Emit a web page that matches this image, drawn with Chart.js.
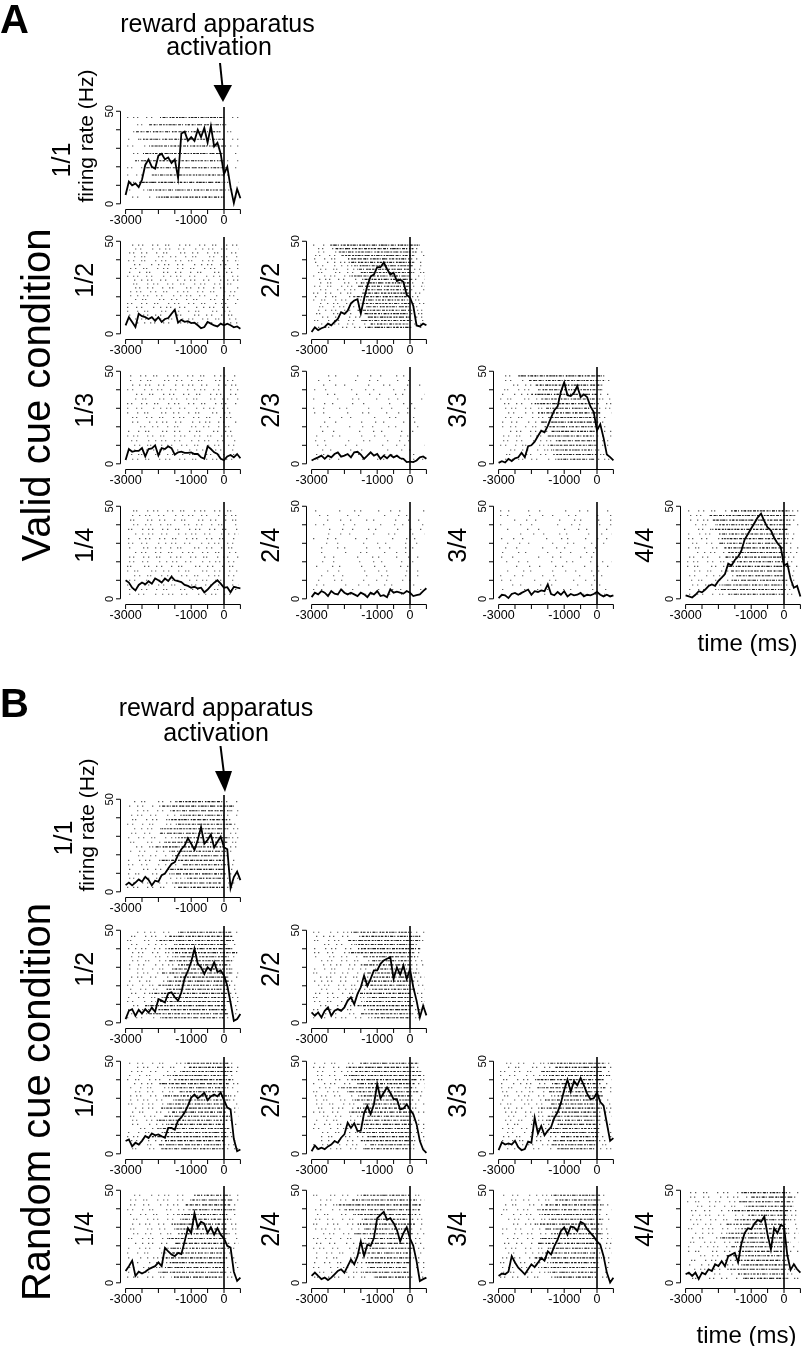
<!DOCTYPE html>
<html>
<head>
<meta charset="utf-8">
<script src="https://cdn.jsdelivr.net/npm/chart.js@4.4.1/dist/chart.umd.min.js"></script>
<style>
  html, body { margin: 0; padding: 0; background: #fff; }
  #fig { position: relative; width: 806px; height: 1346px; overflow: hidden; }
  #fig canvas { position: absolute; }
  #fig svg { position: absolute; left: 0; top: 0; }
</style>
</head>
<body>
<div id="fig">
<svg id="labels" width="806" height="1346" font-family="Liberation Sans, Arial, sans-serif" fill="#000">
  <text x="0" y="33" font-size="40" font-weight="bold">A</text>
  <text x="217.5" y="32" font-size="25" text-anchor="middle">reward apparatus</text>
  <text x="219" y="55" font-size="25" text-anchor="middle">activation</text>
  <line x1="220" y1="63" x2="222.8" y2="90" stroke="#000" stroke-width="2"/>
  <polygon points="213.5,85 232,85 223,102" fill="#000"/>
  <text transform="translate(93,136) rotate(-90)" font-size="21" text-anchor="middle">firing rate (Hz)</text>
  <text transform="translate(50,395) rotate(-90)" font-size="40" text-anchor="middle">Valid cue condition</text>
  <text x="747.5" y="651" font-size="24" text-anchor="middle">time (ms)</text>

  <text x="0" y="717" font-size="40" font-weight="bold">B</text>
  <text x="216" y="716" font-size="25" text-anchor="middle">reward apparatus</text>
  <text x="216" y="741" font-size="25" text-anchor="middle">activation</text>
  <line x1="220.5" y1="746" x2="224.5" y2="778" stroke="#000" stroke-width="2"/>
  <polygon points="215,771 232,771 225,792" fill="#000"/>
  <text transform="translate(94,825) rotate(-90)" font-size="21" text-anchor="middle">firing rate (Hz)</text>
  <text transform="translate(50,1102) rotate(-90)" font-size="40" text-anchor="middle">Random cue condition</text>
  <text x="746.5" y="1343" font-size="24" text-anchor="middle">time (ms)</text>
</svg>
</div>
<script>
// time bins of the firing-rate curves (ms from reward apparatus activation)
const times = [-3000, -2900, -2800, -2700, -2600, -2500, -2400, -2300, -2200, -2100, -2000, -1900,
  -1800, -1700, -1600, -1500, -1400, -1300, -1200, -1100, -1000, -900, -800, -700,
  -600, -500, -400, -300, -200, -100, 0, 100, 200, 300, 400, 500];

const xTicks = [-3000, -2500, -2000, -1500, -1000, -500, 0, 500];
const xLabels = [-3000, -1000, 0];
const yTicks = [0, 10, 20, 30, 40, 50];
const yLabels = [0, 50];
const eventTime = 0;

// firing rate (Hz), valid cue condition
const rateA11 = [4.8, 12, 10, 11, 9, 13, 21, 24, 20, 19, 26, 27, 24, 25, 22, 24, 14, 38, 39, 34, 36, 34, 40, 36, 41, 33, 42, 31, 33, 27, 16, 20, 9, 0.4, 8, 3];
const rateA12 = [4.6, 9, 6.4, 3.7, 10.8, 9.5, 9, 8, 9, 7, 9, 6.4, 8, 8.5, 10.8, 13, 6, 7.5, 6.5, 6.8, 5.8, 6, 4.6, 3, 3.7, 6.4, 5.5, 4.5, 4, 5.5, 4.6, 5.5, 4.6, 3.5, 4, 2.8];
const rateA22 = [1, 3.5, 2, 3, 3.7, 5.5, 4.6, 6.4, 8, 11.7, 10.8, 12.5, 16.5, 18, 18.7, 11, 19, 26, 31, 32, 36, 36, 38.5, 35, 32, 33, 28.5, 29.3, 28, 21, 19.6, 15, 4.5, 4, 5.5, 4.6];
const rateA13 = [2, 8, 6.5, 7, 7, 8.5, 4, 8, 8.3, 10, 4.5, 8.5, 8, 9.4, 8.5, 5, 6.2, 6.6, 5.9, 5.9, 6.2, 5.3, 5.3, 3.5, 2.7, 9.4, 8, 6.2, 5.3, 2.7, 2, 4, 4.8, 3.5, 5.3, 3];
const rateA23 = [1.8, 2.7, 3.5, 4.4, 2.7, 4.4, 3.5, 5.3, 6.2, 3.9, 4.4, 5.3, 3.5, 6.2, 6.5, 5, 2.7, 4.4, 6.2, 4.4, 5.3, 2.7, 4.4, 3, 4.8, 3.5, 4.4, 3, 2.7, 0.9, 1.2, 0.9, 1.8, 3.5, 4, 2.7];
const rateA33 = [0.5, 1.4, 0.7, 2.7, 1.5, 3, 3.5, 6, 3.5, 9.5, 10, 12, 15, 17.9, 17, 20.5, 25, 29, 31, 39, 44, 37, 36.6, 38.4, 42, 36, 37.5, 36, 31, 28, 18, 21.4, 14, 5, 3.6, 1.8];
const rateA14 = [10, 8.8, 6, 4.5, 7.5, 8.8, 7.8, 9.5, 8.2, 11, 10, 8.8, 11, 9.6, 12, 10, 9.5, 9, 7.5, 7, 6, 6.5, 5.6, 6, 3.5, 5, 7, 8.7, 10, 8.2, 6, 6.3, 3.5, 6.5, 6, 5.7];
const rateA24 = [0.9, 3.3, 2.4, 4.2, 3.3, 1.5, 4.2, 2.8, 2.4, 5.1, 3.3, 2.4, 3.3, 2.4, 1.5, 3.3, 2.4, 0.9, 3.3, 2.4, 4.2, 1.5, 2, 0.9, 5.1, 3.3, 3.9, 3.3, 2.8, 4.2, 3.3, 1.5, 2, 2.4, 4.2, 5.7];
const rateA34 = [0.4, 2.2, 1.9, 0.4, 2.6, 3.2, 2.2, 3.2, 4.1, 5, 2.2, 4.1, 3.7, 4.5, 4.1, 7.8, 2.6, 1.9, 3.7, 2.2, 4.1, 1.3, 2.6, 1.9, 2.2, 3.2, 1.3, 2.2, 1.9, 2.6, 3.7, 2.2, 1.3, 2.2, 1.3, 1.9];
const rateA44 = [1.9, 1.3, 0.7, 2.2, 4.1, 3.5, 5, 6.9, 7.8, 7, 9.7, 11.5, 13.4, 19, 18, 21, 22.7, 26, 32, 35, 38, 41, 44, 46, 42, 38.5, 37, 33, 30, 28, 18, 19, 10.8, 6, 7, 1.3];

// firing rate (Hz), random cue condition
const rateB11 = [3.6, 5, 3.5, 5, 6.7, 5.5, 8.1, 6.5, 3.5, 6, 5.5, 9, 9.9, 12.6, 15, 16, 20, 23, 25, 29, 26, 22.6, 28, 35, 26, 28, 31, 24, 27, 29.8, 24, 23, 2, 8, 11, 6.3];
const rateB12 = [2, 6.5, 7.4, 3.8, 7, 5, 7.4, 5.5, 8.3, 6, 12.9, 12, 11, 16, 16.5, 13.8, 12, 16.5, 24, 28, 33, 40, 32, 30, 26.4, 30, 28.3, 32.8, 27.4, 28.3, 25.5, 20, 11, 1.1, 2, 4.7];
const rateB22 = [5.6, 3.8, 5.6, 2.9, 6.5, 8.3, 3.8, 6.5, 7.4, 6.5, 8.3, 12, 13.8, 10, 15.6, 19.2, 25.5, 20, 23.7, 28.3, 28.3, 31.9, 33.7, 34.6, 35.5, 23.7, 30, 26, 31, 23.7, 29, 19.2, 12, 2.9, 9.2, 4];
const rateB13 = [6.9, 7.8, 4, 6, 5, 7, 9.6, 8.5, 11, 10, 10.5, 9.5, 8.7, 14, 14, 13, 18, 19.6, 22.3, 26, 30.4, 32, 30, 31.3, 33, 29, 31, 32, 31, 33, 29, 25, 24, 8, 1.4, 2.3];
const rateB23 = [1.4, 4.5, 2.5, 3.3, 2.5, 4, 5, 6.9, 6, 8.7, 10.5, 16.8, 14, 16.5, 12.3, 12.5, 22, 25.9, 21.4, 26.8, 37.7, 30, 33, 35.9, 33, 29.5, 29.5, 24, 24.5, 26.8, 24, 21.4, 16, 6.9, 2.3, 0.5];
const rateB33 = [2, 6.2, 5, 5.6, 5, 7, 3.6, 2, 2.6, 6.6, 6, 19.5, 11, 15, 10, 12.5, 14.5, 19.5, 22.5, 27.5, 34.5, 40, 33.5, 39.4, 37, 41, 37, 32.5, 29.5, 30, 33, 28, 26, 16.5, 7, 8.5];
const rateB14 = [6.4, 9, 12, 3.7, 6, 5, 6, 7.3, 8.2, 9, 11, 9, 18.9, 17, 15.3, 14.4, 16.2, 15.5, 22.4, 29.5, 26.9, 37.5, 30, 33, 32, 27, 30, 26, 29.5, 26, 24, 20, 19, 6, 1, 2.8];
const rateB24 = [3.7, 5.5, 3.7, 2, 2.8, 1.5, 2.8, 4.6, 6.4, 7.3, 5.5, 9, 12.6, 10, 14.4, 22.4, 14.5, 20.6, 20, 24.2, 34.9, 36.7, 38.4, 34, 34.9, 32.2, 28.6, 22.4, 26.9, 30, 24, 20, 11.7, 1, 2, 2.8];
const rateB34 = [3.7, 5, 4.6, 6, 14.4, 11, 8.2, 6.4, 4.6, 7.3, 10, 8.5, 10.9, 13.5, 12, 17, 15.3, 19.8, 23.3, 28, 30, 26, 30.4, 30, 28, 33, 32, 29, 27, 25, 22.4, 20.6, 14.4, 5.5, 0.2, 2.8];
const rateB44 = [4.6, 5.5, 3.7, 5.5, 2, 5.5, 4.6, 7.3, 6.4, 10, 9, 11.7, 9, 14.4, 15.3, 16.2, 11, 21, 26.9, 29.5, 29, 32, 34, 33, 35.8, 26, 18, 29.5, 26.9, 31.3, 30.4, 15, 7, 10, 7.3, 5.5];

// raster trial rows (plotted on the Hz axis)
const rows12 = [46.6, 42.7, 38.9, 34.9, 31.2, 27.2, 23.3, 19.5, 15.6, 11.6, 7.5, 3.6];
const rows18 = [47.3, 44.7, 42.1, 39.5, 36.9, 34.3, 31.7, 29.1, 26.5, 23.9, 21.3, 18.7, 16.1, 13.5, 10.9, 8.3, 5.7, 3.1];
const rows19 = [47.5, 45.0, 42.5, 40.0, 37.5, 35.0, 32.5, 30.0, 27.5, 25.0, 22.5, 20.0, 17.5, 15.0, 12.5, 10.0, 7.5, 5.0, 2.5];
const rows20 = [48.7, 46.3, 43.8, 41.4, 39.0, 36.5, 34.1, 31.6, 29.2, 26.8, 24.3, 21.9, 19.5, 17.0, 14.6, 12.1, 9.7, 7.3, 4.8, 2.4];
const rows21 = [47.9, 45.8, 43.7, 41.6, 39.5, 37.4, 35.3, 33.2, 31.1, 29.0, 26.9, 24.8, 22.7, 20.6, 18.5, 16.4, 14.3, 12.2, 10.1, 8.0, 5.9];
const rows22 = [48.9, 46.7, 44.5, 42.3, 40.1, 37.9, 35.7, 33.5, 31.3, 29.1, 26.9, 24.7, 22.5, 20.3, 18.1, 15.9, 13.7, 11.5, 9.3, 7.1, 4.9, 2.7];
const rows25 = [47.9, 46.0, 44.2, 42.3, 40.5, 38.6, 36.8, 34.9, 33.1, 31.2, 29.4, 27.5, 25.7, 23.8, 22.0, 20.1, 18.3, 16.4, 14.6, 12.7, 10.9, 9.0, 7.2, 5.3, 3.5];
const rasterSpan = [-2950, 440];

// dense-firing stretch of each trial row (ms)
const denseFromA11 = [-1950, -2300, -2700, -2600, -2300, -2500, -2700, -2400, -2200, -2600, -2300, -2000];
const denseToA11 = [-50, 0, -100, 0, 100, -50, 0, -100, 0, -50, 50, 0];
const denseFromA22 = [-2400, -2300, -2200, -2100, -1900, -1900, -1700, -1600, -1500, -1800, -1400, -1500, -1600, -1300, -1500, -1700, -1400, -1500, -1300, -1600, -1400, -1300, -1500, -1200, -1400];
const denseToA22 = [300, 100, 200, 100, 0, 150, 100, 0, 100, 0, 50, 0, 0, -50, 0, 0, -100, 0, 0, 0, -50, 0, 0, -100, 0];
const denseFromA33 = [-2400, -2100, -1900, -1800, -2000, -1700, -1900, -1600, -1800, -1500, -1700, -1600, -1400, -1500, -1300, -1500, -1400, -1300, -1200];
const denseToA33 = [200, 250, 100, 150, 0, 100, 50, 0, 100, 0, 50, 0, 0, -50, 0, 0, -100, 0, -50];
const denseFromA44 = [-1600, -2300, -2200, -2100, -2200, -2000, -1900, -2000, -1800, -1700, -1800, -1600, -1700, -1600, -1500, -1600, -1900, -2000, -1700];
const denseToA44 = [200, 300, 150, 200, 100, 150, 50, 100, 0, 100, 50, 0, 150, 50, 0, 100, 0, 50, 0];
const denseFromB11 = [-1450, -1900, -1600, -1300, -1700, -1500, -1900, -2000, -1400, -1800, -2100, -1600, -1500, -1900, -1300, -1700, -1600, -1200, -1500, -1400];
const denseToB11 = [-100, 300, 200, 0, 100, 250, 100, 0, 200, 100, 0, 100, 50, 0, 100, 0, 50, 0, -100, 0];
const denseFromB12 = [-1400, -1700, -2000, -1500, -1800, -1600, -1500, -1700, -1400, -1600, -1900, -1500, -1700, -2000, -1800, -2200, -1900, -2100, -2400, -2000, -2300, -1900];
const denseToB12 = [200, 250, 300, 100, 200, 400, 150, 300, 100, 200, 250, 100, 150, 200, 100, 150, 100, 200, 50, 100, 150, 0];
const denseFromB22 = [-1800, -1500, -1900, -1700, -1600, -1900, -1400, -1200, -1500, -1000, -1300, -1100, -1400, -1500, -1200, -1600, -1300, -1400, -1600, -1200, -1500, -1100];
const denseToB22 = [50, 300, 350, 200, 300, 100, 150, 50, 100, 0, 200, 50, 100, 0, 150, 50, 100, 0, 100, 0, 50, 0];
const denseFromB13 = [-1200, -1100, -1300, -1700, -1500, -2000, -1600, -1400, -1800, -1500, -1700, -1900, -1600, -1800, -2100, -1700, -2000, -1900, -2200, -1800, -2000, -1900];
const denseToB13 = [150, 200, 250, 100, 200, 150, 100, 0, 200, 150, 0, 100, 50, 200, 100, 0, 150, 50, 100, 0, 50, 0];
const denseFromB23 = [-1500, -1900, -1700, -2000, -1800, -1600, -2100, -1900, -1500, -1700, -1400, -1600, -1800, -1300, -1500, -1700, -1400, -1600, -1300, -1500, -1200, -1400];
const denseToB23 = [250, 100, 300, 350, 200, 150, 100, 250, 0, 100, 50, 0, 150, 0, 50, 100, 0, 50, 0, 100, 0, 0];
const denseFromB33 = [-1500, -1300, -1700, -1600, -1900, -1400, -1800, -1500, -1200, -1600, -1400, -1700, -1300, -1500, -1600, -1200, -1400, -1500, -1100, -1300, -1400, -1200];
const denseToB33 = [250, 300, 150, 400, 200, 100, 300, 150, 200, 50, 100, 150, 0, 100, 50, 0, 100, 0, 50, 0, 0, -100];
const denseFromB14 = [-900, -1000, -1200, -1100, -1400, -1300, -1600, -1500, -1400, -1700, -1500, -1800, -1600, -1900, -1700, -1800, -2000, -1600];
const denseToB14 = [200, 250, 200, 300, 100, 150, 50, 100, 200, 50, 100, 150, 0, 100, 50, 0, 50, -100];
const denseFromB24 = [-1500, -1800, -2200, -2000, -1700, -1500, -1600, -1400, -1700, -1300, -1500, -1400, -1600, -1200, -1400, -1300, -1500, -1100];
const denseToB24 = [0, 250, 350, 300, 200, 100, 150, 0, 100, 50, 0, 100, 0, 50, 0, -100, 0, -50];
const denseFromB34 = [-1400, -1300, -1600, -1800, -1700, -1500, -1900, -1600, -1400, -1700, -1800, -1500, -1600, -1900, -1400, -1700, -1500, -1300];
const denseToB34 = [100, 50, 200, 100, 0, 150, 100, 50, 200, 0, 100, 50, 0, 150, 0, 50, -50, 0];
const denseFromB44 = [-1300, -1000, -1400, -1200, -1600, -1100, -1500, -1800, -1300, -1700, -1900, -1500, -1600, -1400, -1800, -1500, -1300, -1700, -1400, -1200];
const denseToB44 = [100, 250, 200, 300, 150, 100, 200, 50, 150, 100, 0, 200, 100, 50, 150, 0, 100, 50, 0, 100];

// dash styles for the spike rasters; several patterns and phases so the dots don't line up row to row
const denseDash = [2, 1, 1, 1.5, 3, 1, 1, 2, 1.5, 1, 2.5, 1.5];
const sparseDash = [
  [1, 5, 1, 3, 1, 8, 1, 4, 1, 11, 1, 6],
  [1, 7, 1, 2, 1, 10, 1, 5, 1, 3, 1, 9, 1, 4],
  [1, 4, 1, 9, 1, 6, 1, 2, 1, 13, 1, 3, 1, 7]
];
const lowDash = [
  [1, 9, 1, 15, 1, 6, 1, 21, 1, 12],
  [1, 13, 1, 7, 1, 19, 1, 10, 1, 25],
  [1, 17, 1, 11, 1, 8, 1, 23, 1, 14, 1, 5]
];
const dashPhase = [0, 17, 5, 29, 11, 23, 2, 37, 14, 31, 8, 26, 19, 41, 4, 33, 12, 22, 7, 39, 15, 28, 3, 35, 10];
const patternPick = [0, 2, 1, 1, 0, 2, 2, 1, 0, 1, 2, 0, 0, 1, 2, 1, 0, 2, 1, 0, 2, 2, 1, 0, 1];

// page layout
const colLeft = [91, 277, 464, 651];
const rowTop = { A: [95, 225, 355, 490], B: [783, 914, 1045, 1174] };

const panels = [
  { sec: 'A', name: '1/1', row: 0, col: 0, rate: rateA11, rows: rows12, from: denseFromA11, to: denseToA11, bg: sparseDash },
  { sec: 'A', name: '1/2', row: 1, col: 0, rate: rateA12, rows: rows21, bg: sparseDash },
  { sec: 'A', name: '2/2', row: 1, col: 1, rate: rateA22, rows: rows25, from: denseFromA22, to: denseToA22, bg: sparseDash },
  { sec: 'A', name: '1/3', row: 2, col: 0, rate: rateA13, rows: rows19, bg: sparseDash },
  { sec: 'A', name: '2/3', row: 2, col: 1, rate: rateA23, rows: rows19, bg: lowDash },
  { sec: 'A', name: '3/3', row: 2, col: 2, rate: rateA33, rows: rows19, from: denseFromA33, to: denseToA33, bg: sparseDash },
  { sec: 'A', name: '1/4', row: 3, col: 0, rate: rateA14, rows: rows19, bg: sparseDash },
  { sec: 'A', name: '2/4', row: 3, col: 1, rate: rateA24, rows: rows19, bg: lowDash },
  { sec: 'A', name: '3/4', row: 3, col: 2, rate: rateA34, rows: rows19, bg: lowDash },
  { sec: 'A', name: '4/4', row: 3, col: 3, rate: rateA44, rows: rows19, from: denseFromA44, to: denseToA44, bg: sparseDash },
  { sec: 'B', name: '1/1', row: 0, col: 0, rate: rateB11, rows: rows20, from: denseFromB11, to: denseToB11, bg: sparseDash },
  { sec: 'B', name: '1/2', row: 1, col: 0, rate: rateB12, rows: rows22, from: denseFromB12, to: denseToB12, bg: sparseDash },
  { sec: 'B', name: '2/2', row: 1, col: 1, rate: rateB22, rows: rows22, from: denseFromB22, to: denseToB22, bg: sparseDash },
  { sec: 'B', name: '1/3', row: 2, col: 0, rate: rateB13, rows: rows22, from: denseFromB13, to: denseToB13, bg: sparseDash },
  { sec: 'B', name: '2/3', row: 2, col: 1, rate: rateB23, rows: rows22, from: denseFromB23, to: denseToB23, bg: sparseDash },
  { sec: 'B', name: '3/3', row: 2, col: 2, rate: rateB33, rows: rows22, from: denseFromB33, to: denseToB33, bg: sparseDash },
  { sec: 'B', name: '1/4', row: 3, col: 0, rate: rateB14, rows: rows18, from: denseFromB14, to: denseToB14, bg: sparseDash },
  { sec: 'B', name: '2/4', row: 3, col: 1, rate: rateB24, rows: rows18, from: denseFromB24, to: denseToB24, bg: sparseDash },
  { sec: 'B', name: '3/4', row: 3, col: 2, rate: rateB34, rows: rows18, from: denseFromB34, to: denseToB34, bg: sparseDash },
  { sec: 'B', name: '4/4', row: 3, col: 3, rate: rateB44, rows: rows20, from: denseFromB44, to: denseToB44, bg: sparseDash },
];

const FONT = '"Liberation Sans", Arial, sans-serif';

// R-style axes: lines only between first and last tick, event line at 0
const rAxes = {
  id: 'rAxes',
  afterDatasetsDraw(chart) {
    const { ctx, chartArea: a, scales: { x, y } } = chart;
    ctx.save();
    const x0 = x.getPixelForValue(eventTime);
    ctx.strokeStyle = '#000';
    ctx.lineWidth = 1.6;
    ctx.beginPath();
    ctx.moveTo(x0, a.top);
    ctx.lineTo(x0, a.bottom);
    ctx.stroke();

    ctx.lineWidth = 1;
    const ax = Math.round(a.left) - 0.5;
    const ay = Math.round(a.bottom) + 0.5;
    ctx.beginPath();
    ctx.moveTo(ax, y.getPixelForValue(yTicks[0]));
    ctx.lineTo(ax, y.getPixelForValue(yTicks[yTicks.length - 1]));
    yTicks.forEach(v => {
      const py = y.getPixelForValue(v);
      ctx.moveTo(ax, py);
      ctx.lineTo(ax - 4.5, py);
    });
    ctx.moveTo(x.getPixelForValue(xTicks[0]), ay);
    ctx.lineTo(x.getPixelForValue(xTicks[xTicks.length - 1]), ay);
    xTicks.forEach(v => {
      const px = x.getPixelForValue(v);
      ctx.moveTo(px, ay);
      ctx.lineTo(px, ay + 4.5);
    });
    ctx.stroke();

    ctx.fillStyle = '#000';
    ctx.textAlign = 'center';
    ctx.textBaseline = 'middle';
    ctx.font = '12.5px ' + FONT;
    xLabels.forEach(v => ctx.fillText(String(v), x.getPixelForValue(v), y.getPixelForValue(0) + 17));
    ctx.font = '11px ' + FONT;
    yLabels.forEach(v => {
      ctx.save();
      ctx.translate(ax - 11, y.getPixelForValue(v));
      ctx.rotate(-Math.PI / 2);
      ctx.fillText(String(v), 0, 0);
      ctx.restore();
    });
    ctx.restore();
  }
};

const fig = document.getElementById('fig');
const svg = document.getElementById('labels');

function addPanelLabel(p, left, top) {
  let bx, cy;
  if (p.name === '1/1') {
    bx = p.sec === 'A' ? 70 : 72;
    cy = p.sec === 'A' ? 160 : 838;
  } else {
    bx = left + 30 - 28;
    cy = top + 16.3 + 39;
  }
  const t = document.createElementNS('http://www.w3.org/2000/svg', 'text');
  t.setAttribute('transform', `translate(${bx},${cy}) rotate(-90)`);
  t.setAttribute('font-size', '25');
  t.setAttribute('text-anchor', 'middle');
  t.textContent = p.name;
  svg.appendChild(t);
}

panels.forEach((p, pi) => {
  const left = colLeft[p.col];
  const top = rowTop[p.sec][p.row];
  const canvas = document.createElement('canvas');
  canvas.width = 160;
  canvas.height = 140;
  canvas.style.left = left + 'px';
  canvas.style.top = top + 'px';
  fig.insertBefore(canvas, svg);

  const datasets = [{
    data: times.map((t, i) => ({ x: t, y: p.rate[i] })),
    borderColor: '#000',
    borderWidth: 1.8,
    order: 0
  }];
  p.rows.forEach((yv, r) => {
    const k = (r + pi * 3) % patternPick.length;
    datasets.push({
      data: [{ x: rasterSpan[0], y: yv }, { x: rasterSpan[1], y: yv }],
      borderColor: '#2a2a2a',
      borderWidth: 1.1,
      borderDash: p.bg[patternPick[k]],
      borderDashOffset: dashPhase[(r * 3 + pi) % dashPhase.length],
      order: 2
    });
    if (p.from) {
      datasets.push({
        data: [{ x: p.from[r], y: yv }, { x: p.to[r], y: yv }],
        borderColor: '#1a1a1a',
        borderWidth: 1.1,
        borderDash: denseDash,
        borderDashOffset: dashPhase[(r + 7) % dashPhase.length] % 17,
        order: 1
      });
    }
  });

  new Chart(canvas, {
    type: 'line',
    data: { datasets },
    options: {
      responsive: false,
      animation: false,
      devicePixelRatio: 1,
      events: [],
      layout: { padding: { left: 30, top: 12, right: 6, bottom: 26 } },
      elements: {
        point: { radius: 0 },
        line: { tension: 0, borderCapStyle: 'butt', fill: false }
      },
      plugins: { legend: { display: false }, tooltip: { enabled: false } },
      scales: {
        x: { type: 'linear', min: -3140, max: 640, display: false },
        y: { type: 'linear', min: -2.8, max: 52.3, display: false }
      }
    },
    plugins: [rAxes]
  });

  addPanelLabel(p, left, top);
});
</script>
</body>
</html>
